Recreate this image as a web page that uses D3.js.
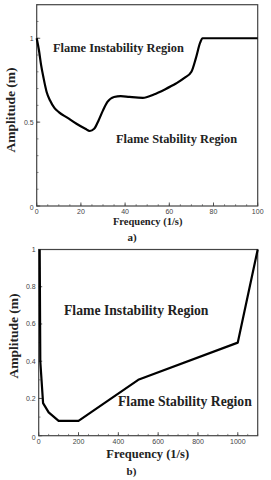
<!DOCTYPE html>
<html lang="en">
<head>
  <meta charset="UTF-8" />
  <title>Flame stability maps</title>
  <script src="https://d3js.org/d3.v7.min.js"></script>
  <style>
    body { margin: 0; background: #fff; }
    .tick-label { font-family: "Liberation Sans", Arial, sans-serif; font-size: 7px; fill: #444; }
    .title { font-family: "Liberation Serif", "Times New Roman", serif; font-weight: bold; fill: #222; }
  </style>
</head>
<body>
  <div id="chart"></div>
  <script>
    // panel a) - amplitude vs frequency, 0-100 1/s
    var freqA = [0, 1, 2, 3, 4.5, 6, 8, 10, 14, 18, 22, 24, 26, 28, 30, 32, 35, 38, 42, 48, 53, 58, 63, 67, 70, 72, 74, 75, 100];
    var ampA  = [1.0, 0.93, 0.84, 0.77, 0.68, 0.63, 0.585, 0.56, 0.525, 0.49, 0.46, 0.447, 0.46, 0.51, 0.57, 0.62, 0.65, 0.655, 0.65, 0.645, 0.665, 0.695, 0.73, 0.765, 0.80, 0.88, 0.975, 1.0, 1.0];
    var xTicksA = [0, 20, 40, 60, 80, 100];
    var yTicksA = [0, 0.5, 1];

    // panel b) - amplitude vs frequency, 0-1100 1/s
    var freqB = [5, 8, 22, 50, 100, 200, 500, 1000, 1100];
    var ampB  = [1.0, 0.4, 0.175, 0.125, 0.08, 0.08, 0.3, 0.5, 1.0];
    var xTicksB = [0, 200, 400, 600, 800, 1000];
    var yTicksB = [0, 0.2, 0.4, 0.6, 0.8, 1];

    var svg = d3.select('#chart').append('svg')
      .attr('width', 271)
      .attr('height', 480);

    function drawPanel(p) {
      var x = d3.scaleLinear().domain(p.xDomain).range([p.left, p.right]);
      var y = d3.scaleLinear().domain(p.yDomain).range([p.bottom, p.top]);
      var g = svg.append('g');

      // minor ticks
      d3.range(p.xDomain[0], p.xDomain[1] + 1e-9, p.xMinor).forEach(function (v) {
        g.append('line').attr('x1', x(v)).attr('x2', x(v))
          .attr('y1', p.bottom).attr('y2', p.bottom - 1.8)
          .attr('stroke', '#555').attr('stroke-width', 0.7);
      });
      d3.range(p.yDomain[0], p.yDomain[1] + 1e-9, p.yMinor).forEach(function (v) {
        g.append('line').attr('x1', p.left).attr('x2', p.left + 1.8)
          .attr('y1', y(v)).attr('y2', y(v))
          .attr('stroke', '#555').attr('stroke-width', 0.7);
      });

      // major ticks + labels
      p.xTicks.forEach(function (v) {
        g.append('line').attr('x1', x(v)).attr('x2', x(v))
          .attr('y1', p.bottom).attr('y2', p.bottom - 3.5)
          .attr('stroke', '#444').attr('stroke-width', 0.9);
        g.append('text').attr('class', 'tick-label')
          .attr('x', x(v)).attr('y', p.bottom + 8)
          .attr('text-anchor', 'middle').text(v);
      });
      p.yTicks.forEach(function (v) {
        g.append('line').attr('x1', p.left).attr('x2', p.left + 3.5)
          .attr('y1', y(v)).attr('y2', y(v))
          .attr('stroke', '#444').attr('stroke-width', 0.9);
        g.append('text').attr('class', 'tick-label')
          .attr('x', p.left - 3).attr('y', y(v) + (v === 0 ? 4 : 2.5))
          .attr('text-anchor', 'end').text(v);
      });

      // frame
      g.append('rect')
        .attr('x', p.left).attr('y', p.top)
        .attr('width', p.right - p.left).attr('height', p.bottom - p.top)
        .attr('fill', 'none').attr('stroke', '#444').attr('stroke-width', 1.2);

      // curve
      var line = d3.line()
        .x(function (d) { return x(d[0]); })
        .y(function (d) { return y(d[1]); })
        .curve(p.curve);
      g.append('path')
        .datum(d3.zip(p.freq, p.amp))
        .attr('d', line)
        .attr('fill', 'none')
        .attr('stroke', '#000')
        .attr('stroke-width', 2.2)
        .attr('stroke-linejoin', 'round');

      // region labels
      g.append('text').attr('class', 'title')
        .attr('x', p.instab[0]).attr('y', p.instab[1])
        .style('font-size', p.regionSize + 'px')
        .text('Flame Instability Region');
      g.append('text').attr('class', 'title')
        .attr('x', p.stab[0]).attr('y', p.stab[1])
        .style('font-size', p.regionSize + 'px')
        .text('Flame Stability Region');

      // axis titles
      g.append('text').attr('class', 'title')
        .attr('x', (p.left + p.right) / 2 + p.xTitleShift).attr('y', p.xTitleY)
        .attr('text-anchor', 'middle')
        .style('font-size', p.xTitleSize + 'px')
        .text('Frequency (1/s)');
      g.append('text').attr('class', 'title')
        .attr('transform', 'translate(' + p.yTitleX + ',' + p.yTitleMid + ') rotate(-90)')
        .attr('text-anchor', 'middle')
        .style('font-size', '13.5px')
        .text('Amplitude (m)');
      g.append('text').attr('class', 'title')
        .attr('x', p.capX).attr('y', p.capY)
        .attr('text-anchor', 'middle')
        .style('font-size', '11px')
        .text(p.caption);
    }

    drawPanel({
      freq: freqA, amp: ampA, curve: d3.curveMonotoneX,
      xDomain: [0, 100], yDomain: [0, 1.2],
      xTicks: xTicksA, yTicks: yTicksA, xMinor: 5, yMinor: 0.1,
      left: 36.7, right: 257.7, top: 4.7, bottom: 206,
      regionSize: 12.4, instab: [53, 52], stab: [116, 143],
      xTitleSize: 10.5, xTitleY: 225, xTitleShift: 0.5,
      yTitleX: 14.5, yTitleMid: 110,
      caption: 'a)', capX: 132, capY: 241
    });

    drawPanel({
      freq: freqB, amp: ampB, curve: d3.curveLinear,
      xDomain: [0, 1100], yDomain: [0, 1],
      xTicks: xTicksB, yTicks: yTicksB, xMinor: 50, yMinor: 0.1,
      left: 38.7, right: 257.7, top: 249.5, bottom: 435.7,
      regionSize: 13.7, instab: [64, 315], stab: [118, 405.5],
      xTitleSize: 12.5, xTitleY: 458, xTitleShift: -0.5,
      yTitleX: 17.5, yTitleMid: 336,
      caption: 'b)', capX: 131.5, capY: 475
    });
  </script>
</body>
</html>
